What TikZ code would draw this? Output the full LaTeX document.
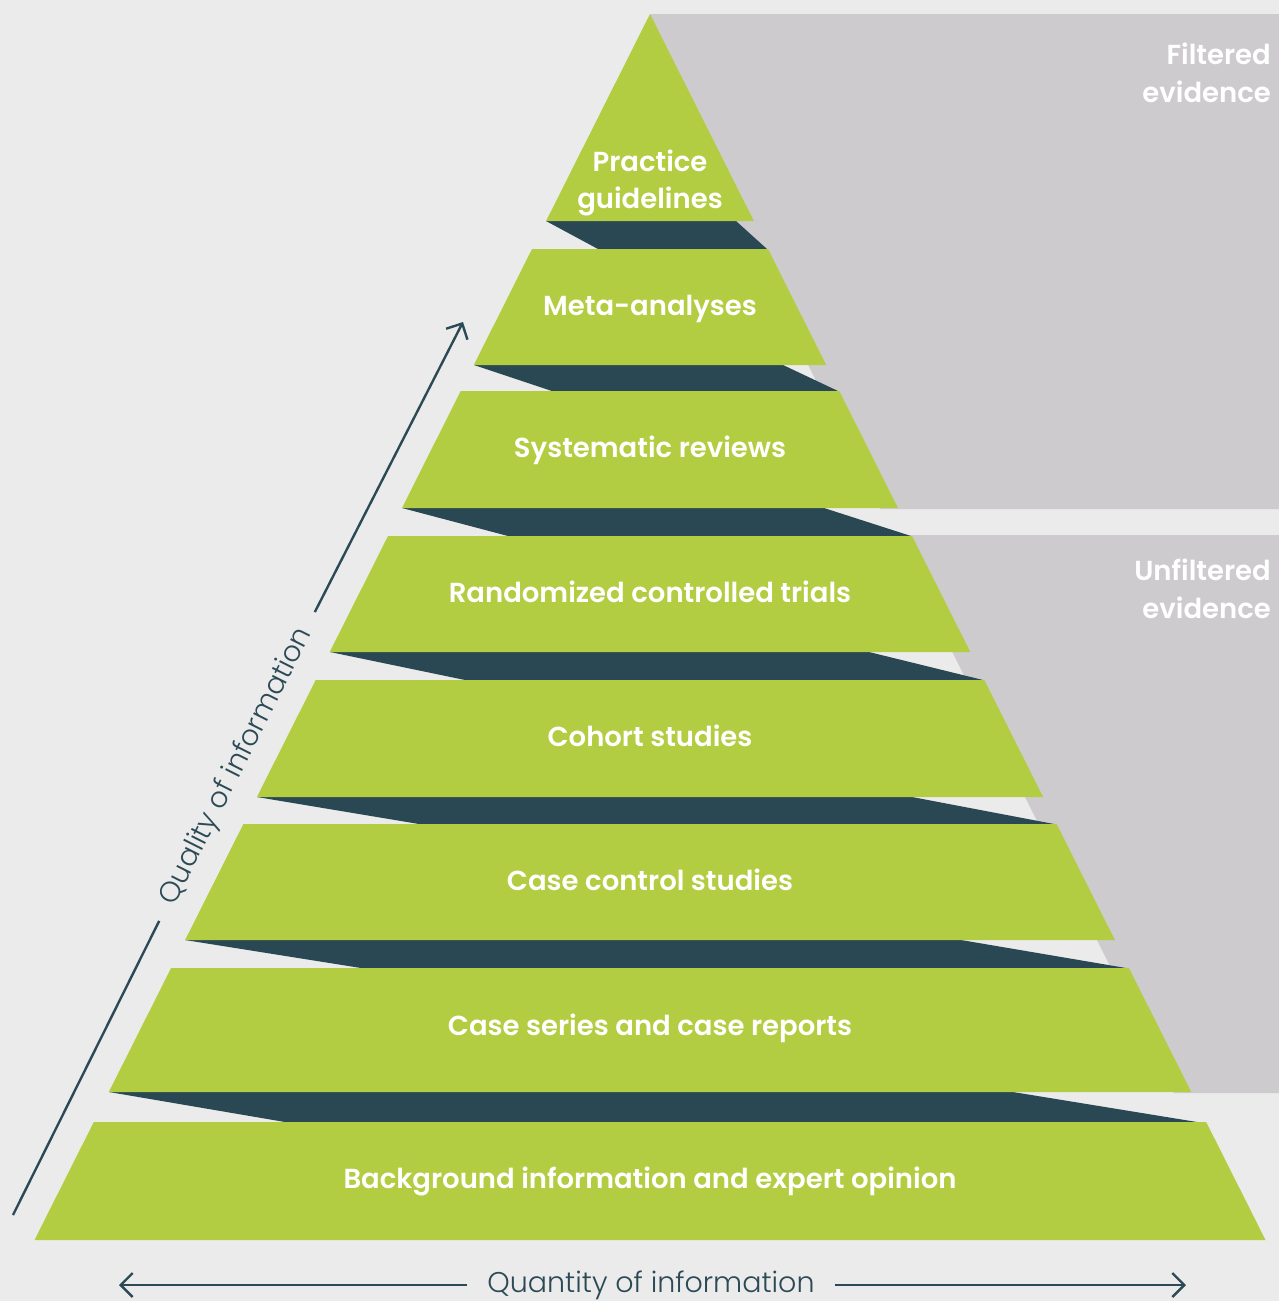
\documentclass[tikz,border=0pt]{standalone}
\usepackage{fontspec}
\setmainfont{Poppins}
\newfontfamily\labelfont{Poppins SemiBold}
\newfontfamily\axisfont{Poppins Light}
\usetikzlibrary{arrows.meta}
\definecolor{bgcol}{HTML}{EBEBEB}
\definecolor{panelcol}{HTML}{CDCBCE}
\definecolor{bandgreen}{HTML}{B3CD42}
\definecolor{banddark}{HTML}{294853}
\definecolor{axiscol}{HTML}{2B4A56}
\tikzset{
  bandtext/.style={text=white, inner sep=0pt, anchor=base, font=\labelfont\fontsize{27.5}{37}\selectfont},
  sidetext/.style={text=white, inner sep=0pt, anchor=east, align=right, font=\labelfont\fontsize{27.5}{38}\selectfont},
  axistext/.style={text=axiscol, inner ysep=0pt, inner xsep=20pt, font=\axisfont\fontsize{28.5}{32}\selectfont},
  axisline/.style={draw=axiscol, line width=2.4pt},
  axistip/.style={-{Straight Barb[length=12pt, width=24pt, line width=2.4pt]}}
}
\begin{document}
\begin{tikzpicture}[x=1pt, y=-1pt]

\useasboundingbox (0,0) rectangle (1279,1301);
\fill [bgcol] (0,0) rectangle (1279,1301);

\fill [panelcol] (650,14) -- (1279,14) -- (1279,509) -- (880.5,509) -- (650,49.9) -- cycle;
\fill [panelcol] (893.5,535) -- (1279,535) -- (1279,1093) -- (1173.7,1093) -- cycle;

\fill [banddark] (546,221) -- (736,221) -- (767,249) -- (598,249) -- cycle;
\fill [banddark] (474,365) -- (783,365) -- (838,391) -- (552,391) -- cycle;
\fill [banddark] (402,508) -- (824,508) -- (911,536) -- (508,536) -- cycle;
\fill [banddark] (330,652) -- (869,652) -- (983,680) -- (465,680) -- cycle;
\fill [banddark] (257,797) -- (912,797) -- (1054,824) -- (419,824) -- cycle;
\fill [banddark] (185,940) -- (961,940) -- (1126,968) -- (361,968) -- cycle;
\fill [banddark] (109,1092) -- (1013,1092) -- (1197,1122) -- (285,1122) -- cycle;

\fill [bandgreen] (650,14) -- (753.9,221) -- (546.1,221) -- cycle;
\fill [bandgreen] (532.0,249) -- (768.0,249) -- (826.2,365) -- (473.8,365) -- cycle;
\fill [bandgreen] (460.7,391) -- (839.3,391) -- (898.0,508) -- (402.0,508) -- cycle;
\fill [bandgreen] (388.0,536) -- (912.0,536) -- (970.3,652) -- (329.7,652) -- cycle;
\fill [bandgreen] (315.7,680) -- (984.3,680) -- (1043.1,797) -- (256.9,797) -- cycle;
\fill [bandgreen] (243.4,824) -- (1056.6,824) -- (1114.9,940) -- (185.1,940) -- cycle;
\fill [bandgreen] (171.1,968) -- (1128.9,968) -- (1191.2,1092) -- (108.8,1092) -- cycle;
\fill [bandgreen] (93.8,1122) -- (1206.2,1122) -- (1265.5,1240) -- (34.5,1240) -- cycle;

\draw (650,171) node (practice) [bandtext] {Practice};
\draw (650,208) node (guidelines) [bandtext] {guidelines};
\draw (650,315) node (meta) [bandtext] {Meta-analyses};
\draw (650,457) node (sysrev) [bandtext] {Systematic reviews};
\draw (650,602) node (rct) [bandtext] {Randomized controlled trials};
\draw (650,746) node (cohort) [bandtext] {Cohort studies};
\draw (650,890) node (casecontrol) [bandtext] {Case control studies};
\draw (650,1035) node (caseseries) [bandtext] {Case series and case reports};
\draw (650,1188) node (background) [bandtext] {Background information and expert opinion};

\draw (1271,73) node (filtered) [sidetext] {Filtered\\evidence};
\draw (1271,589) node (unfiltered) [sidetext] {Unfiltered\\evidence};

\draw (651,1285) node (quantity) [axistext] {Quantity of information};
\coordinate (qleft) at (119,1285);
\coordinate (qright) at (1186,1285);
\draw [axisline, axistip] (quantity.west) -- (qleft);
\draw [axisline, axistip] (quantity.east) -- (qright);

\draw (237,766.5) node (quality) [axistext, rotate=63.26] {Quality of information};
\coordinate (qlow) at (13,1215);
\coordinate (qhigh) at (463,322);
\draw [axisline] (qlow) -- (quality.west);
\draw [axisline, axistip] (quality.east) -- (qhigh);

\end{tikzpicture}
\end{document}
